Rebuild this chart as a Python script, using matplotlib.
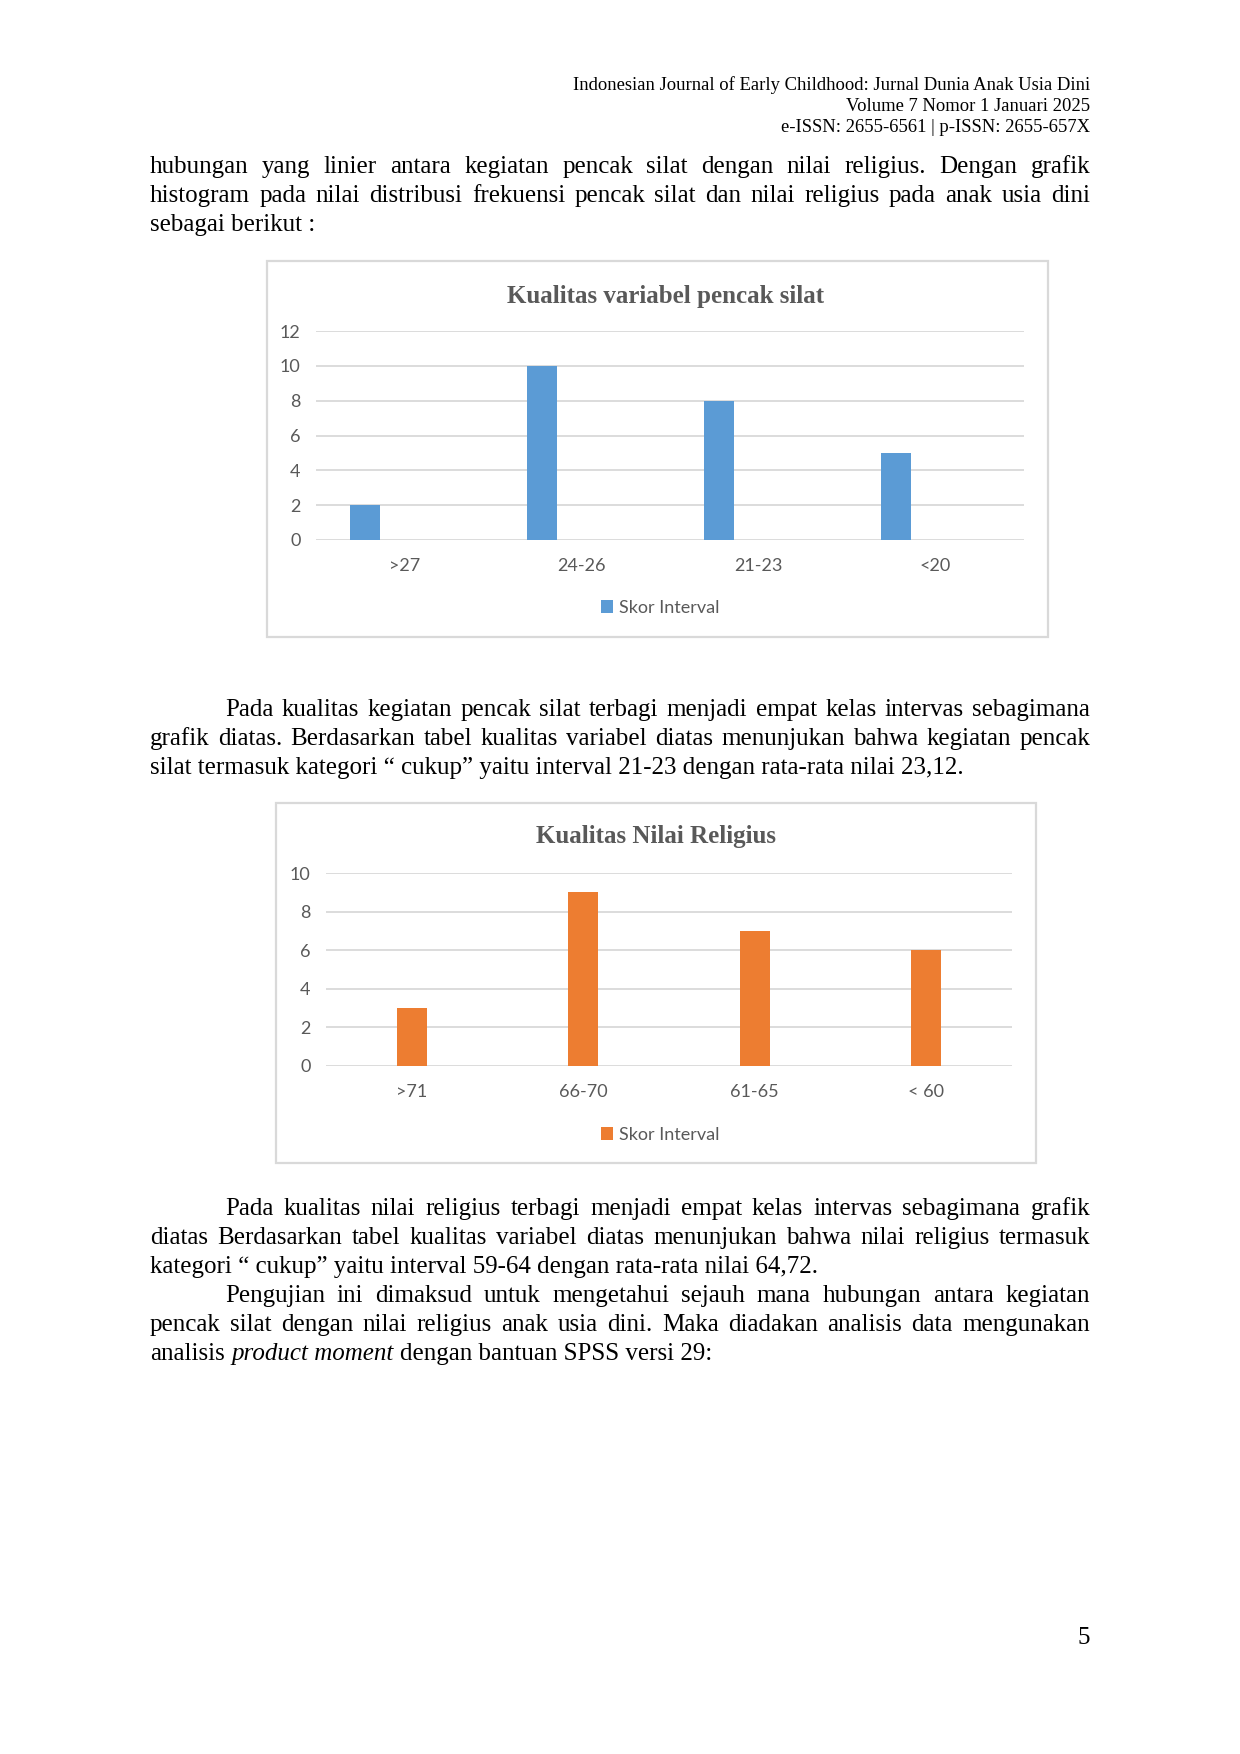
import matplotlib.pyplot as plt
from matplotlib.patches import Rectangle

# data for the two charts
silat_labels = [">27", "24-26", "21-23", "<20"]
silat_values = [2, 10, 8, 5]
religi_labels = [">71", "66-70", "61-65", "< 60"]
religi_values = [3, 9, 7, 6]
series_name = "Skor Interval"

# page text
header_lines = [
    "Indonesian Journal of Early Childhood: Jurnal Dunia Anak Usia Dini",
    "Volume 7 Nomor 1 Januari 2025",
    "e-ISSN: 2655-6561 | p-ISSN: 2655-657X",
]
para1 = [
    "hubungan yang linier antara kegiatan pencak silat dengan nilai religius. Dengan grafik",
    "histogram pada nilai distribusi frekuensi pencak silat dan nilai religius pada anak usia dini",
    "sebagai berikut :",
]
para2 = [
    "Pada kualitas kegiatan pencak silat terbagi menjadi empat kelas intervas sebagimana",
    "grafik diatas. Berdasarkan tabel kualitas variabel diatas menunjukan bahwa kegiatan pencak",
    "silat termasuk kategori \u201c cukup\u201d yaitu interval 21-23 dengan rata-rata nilai 23,12.",
]
para3 = [
    "Pada kualitas nilai religius terbagi menjadi empat kelas intervas sebagimana grafik",
    "diatas Berdasarkan tabel kualitas variabel diatas menunjukan bahwa nilai religius termasuk",
    "kategori \u201c cukup\u201d yaitu interval 59-64 dengan rata-rata nilai 64,72.",
]
para4 = [
    "Pengujian ini dimaksud untuk mengetahui sejauh mana hubungan antara kegiatan",
    "pencak silat dengan nilai religius anak usia dini. Maka diadakan analisis data mengunakan",
]
para4_last = [("analisis ", "normal"), ("product moment", "italic"),
              (" dengan bantuan SPSS versi 29:", "normal")]

W, H = 1240, 1754
fig = plt.figure(figsize=(W / 100, H / 100), dpi=100)
renderer = fig.canvas.get_renderer()

SERIF = "Liberation Serif"
BODY = 18
LEFT, RIGHT, INDENT = 150, 1090, 225


def fx(x):
    return x / W


def fy(y):
    return 1 - y / H


def width_of(s, style="normal", size=BODY):
    t = fig.text(0, 0, s, family=SERIF, fontsize=size, style=style)
    w = t.get_window_extent(renderer).width
    t.remove()
    return w


SPACE = width_of("x x") - width_of("xx")


def put_line(text, y, x0=LEFT, justify=True):
    # y is the baseline in pixels from the top
    if not justify:
        fig.text(fx(x0), fy(y), text, family=SERIF, fontsize=BODY, va="baseline")
        return
    words = text.split()
    widths = [width_of(w) for w in words]
    gap = (RIGHT - x0 - sum(widths)) / (len(words) - 1)
    x = x0
    for w, wd in zip(words, widths):
        fig.text(fx(x), fy(y), w, family=SERIF, fontsize=BODY, va="baseline")
        x += wd + gap


def put_para(lines, y0, indent=True, last_left=True):
    for i, line in enumerate(lines):
        x0 = INDENT if (i == 0 and indent) else LEFT
        last = (i == len(lines) - 1) and last_left
        put_line(line, y0 + i * 29.1, x0, justify=not last)


# header
for i, line in enumerate(header_lines):
    fig.text(fx(1090), fy(90 + i * 21.2), line, family=SERIF, fontsize=13.45,
             ha="right", va="baseline")

put_para(para1, 173, indent=False)
put_para(para2, 716)
put_para(para3, 1215)
put_para(para4, 1302, last_left=False)

# last line of para 4 with italic part
x = LEFT
for seg, st in para4_last:
    lead = len(seg) - len(seg.lstrip())
    trail = len(seg) - len(seg.rstrip())
    x += lead * SPACE
    fig.text(fx(x), fy(1360), seg.strip(), family=SERIF, fontsize=BODY,
             style=st, va="baseline")
    x += width_of(seg.strip(), st) + trail * SPACE

# page number
fig.text(fx(1090), fy(1644), "5", family=SERIF, fontsize=BODY, ha="right", va="baseline")

GRID = "#D9D9D9"
GRAY = "#595959"


def chart(box, plot, labels, values, color, title, title_xy, ymax, step, offset, bw, legend_y):
    bx0, by0, bx1, by1 = box
    fig.add_artist(Rectangle((fx(bx0), fy(by1)), (bx1 - bx0) / W, (by1 - by0) / H,
                             transform=fig.transFigure, fill=False,
                             edgecolor=GRID, linewidth=1.6))
    px0, py_top, px1, py0 = plot
    ax = fig.add_axes([fx(px0), fy(py0), (px1 - px0) / W, (py0 - py_top) / H])
    xs = range(len(labels))
    ax.bar([i + offset for i in xs], values, width=bw, color=color, label=series_name, zorder=3)
    ax.set_xlim(-0.5, len(labels) - 0.5)
    ax.set_ylim(0, ymax)
    ax.set_yticks(range(0, ymax + 1, step))
    ax.set_xticks(list(xs))
    ax.set_xticklabels(labels)
    ax.grid(axis="y", color=GRID, linewidth=1.3, zorder=0)
    for s in ax.spines.values():
        s.set_visible(False)
    ax.tick_params(length=0, labelsize=13, labelcolor=GRAY)
    ax.tick_params(axis="y", pad=11)
    ax.tick_params(axis="x", pad=13)
    for t in ax.get_xticklabels() + ax.get_yticklabels():
        t.set_family("Lato")
    ax.set_facecolor("none")
    fig.text(fx(title_xy[0]), fy(title_xy[1]), title, family=SERIF, fontsize=18,
             fontweight="bold", color=GRAY, ha="center", va="center")
    ax.legend(loc="center", bbox_to_anchor=(fx(660), fy(legend_y)),
              bbox_transform=fig.transFigure, frameon=False,
              handlelength=0.7, handleheight=0.7, handletextpad=0.3,
              prop={"family": "Lato", "size": 13}, labelcolor=GRAY)
    return ax


chart((267, 261, 1048, 637), (316, 331, 1024, 540), silat_labels, silat_values,
      "#5B9BD5", "Kualitas variabel pencak silat", (666, 297), 12, 2, -0.225, 0.17, 608)
chart((276, 803, 1036, 1163), (326, 873, 1012, 1066), religi_labels, religi_values,
      "#ED7D31", "Kualitas Nilai Religius", (656, 836), 10, 2, 0.0, 0.175, 1135)

fig.savefig("out.png", dpi=100)
